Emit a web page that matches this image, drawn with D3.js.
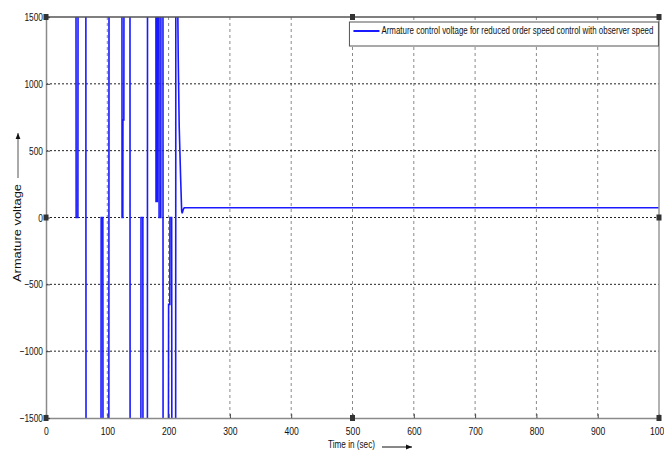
<!DOCTYPE html>
<html>
<head>
<meta charset="utf-8">
<script src="https://cdn.jsdelivr.net/npm/d3@7"></script>
<style>
body { margin: 0; background: #fff; }
text { font-family: "Liberation Sans Narrow", "Arial Narrow", "Liberation Sans", sans-serif; }
</style>
</head>
<body>
<div id="chart"></div>
<script>
// switching armature voltage, values beyond +-1500 are clipped by the axes
var time = [0, 48.9, 49.2, 52.0, 52.3, 65.0, 65.3, 89.7, 90.0, 92.7, 93.0, 102.5, 102.8,
            123.9, 124.1, 125.3, 125.5, 127.0, 127.2, 137.0, 137.2, 154.8, 155.0, 158.0, 158.2,
            165.4, 165.6, 179.3, 179.5, 181.6, 181.8, 184.3, 184.5, 187.3, 187.5, 190.8, 191.0,
            199.7, 200.0, 202.0, 202.2, 205.0, 205.3, 211.5, 211.8, 214.5,
            215.7, 217.3, 219.6, 221.3, 222.2, 224.0, 225.5, 1000];
var voltage = [1800, 1800, 0, 0, 1800, 1800, -1800, -1800, 0, 0, -1800, -1800, 1800,
               1800, 0, 0, 730, 730, 1800, 1800, -1800, -1800, 0, 0, -1800,
               -1800, 1800, 1800, 120, 120, 1800, 1800, 0, 0, 1800, 1800, -1800,
               -1800, -650, -650, 0, 0, -1800, -1800, 1800, 1800,
               1200, 680, 300, 50, 32, 62, 73, 73];
var xTicks = [0, 100, 200, 300, 400, 500, 600, 700, 800, 900, 1000];
var yTicks = [-1500, -1000, -500, 0, 500, 1000, 1500];
var legendLabel = "Armature control voltage for reduced order speed control with observer speed";

var margin = {top: 17, right: 5, bottom: 32, left: 46},
    width = 664 - margin.left - margin.right,
    height = 450 - margin.top - margin.bottom;

var svg = d3.select("#chart").append("svg")
    .attr("width", 664).attr("height", 450)
    .style("display", "block");

var g = svg.append("g")
    .attr("transform", "translate(" + margin.left + "," + margin.top + ")");

var xScale = d3.scaleLinear().domain([0, 1000]).range([0, width]);
var yScale = d3.scaleLinear().domain([-1500, 1500]).range([height, 0]);

g.append("defs").append("clipPath").attr("id", "plot-clip")
    .append("rect").attr("width", width).attr("height", height);

// grid
g.append("g").selectAll("line").data(xTicks.slice(1, -1)).enter().append("line")
    .attr("x1", d => xScale(d)).attr("x2", d => xScale(d))
    .attr("y1", 0).attr("y2", height)
    .attr("stroke", "#8a8a8a").attr("stroke-dasharray", "3,3");
g.append("g").selectAll("line").data(yTicks.slice(1, -1)).enter().append("line")
    .attr("x1", 0).attr("x2", width)
    .attr("y1", d => yScale(d)).attr("y2", d => yScale(d))
    .attr("stroke", "#222").attr("stroke-dasharray", "2,2");

// signal
var pts = time.map((t, i) => [t, voltage[i]]);
g.append("path")
    .datum(pts)
    .attr("clip-path", "url(#plot-clip)")
    .attr("d", d3.line().x(d => xScale(d[0])).y(d => yScale(d[1])))
    .attr("fill", "none")
    .attr("stroke", "#1a1aff")
    .attr("stroke-width", 1.6);

// axes
var xAxis = g.append("g").attr("transform", "translate(0," + height + ")")
    .call(d3.axisBottom(xScale).tickValues(xTicks).tickSize(-4).tickPadding(9).tickFormat(d3.format("d")));
var yAxis = g.append("g")
    .call(d3.axisLeft(yScale).tickValues(yTicks).tickSize(-4).tickPadding(5).tickFormat(d3.format("d")));
[xAxis, yAxis].forEach(a => {
    a.select(".domain").attr("stroke", "#8a8a8a").attr("stroke-width", 1.5);
    a.selectAll(".tick line").attr("stroke", "#444");
    a.selectAll(".tick text").attr("fill", "#111").style("font-size", "11px");
});
// narrow tick labels, like the condensed font of the original
xAxis.selectAll(".tick text").attr("transform", "scale(0.78,1)");
yAxis.selectAll(".tick text").attr("x", -3 / 0.76).attr("transform", "scale(0.76,1)");

// top and right box edges
g.append("line").attr("x1", 0).attr("x2", width).attr("y1", 0).attr("y2", 0)
    .attr("stroke", "#555").attr("stroke-width", 1.5);
g.append("line").attr("x1", width).attr("x2", width).attr("y1", 0).attr("y2", height)
    .attr("stroke", "#999").attr("stroke-width", 1.5);

// legend
var lg = g.append("g").attr("transform", "translate(" + (xScale(495)) + ",5)");
lg.append("rect").attr("width", 309).attr("height", 24)
    .attr("fill", "#fff").attr("stroke", "#555");
lg.append("line").attr("x1", 4).attr("x2", 30).attr("y1", 9).attr("y2", 9)
    .attr("stroke", "#1a1aff").attr("stroke-width", 2);
lg.append("text").attr("x", 32).attr("y", 12)
    .attr("textLength", 272).attr("lengthAdjust", "spacingAndGlyphs")
    .style("font-size", "10.5px").attr("fill", "#111").text(legendLabel);

// selection handles
var hx = [0, width / 2, width], hy = [0, height / 2, height];
var handles = [];
hx.forEach(x => hy.forEach(y => { if (!(x === width / 2 && y === height / 2)) handles.push([x, y]); }));
g.append("g").selectAll("rect").data(handles).enter().append("rect")
    .attr("x", d => d[0] - 2.5).attr("y", d => d[1] - 3)
    .attr("width", 5).attr("height", 6)
    .attr("fill", "#333");

// axis titles with arrows
svg.append("defs").append("marker")
    .attr("id", "arrowhead").attr("viewBox", "0 -5 10 10")
    .attr("refX", 10).attr("refY", 0)
    .attr("markerWidth", 6).attr("markerHeight", 6)
    .attr("orient", "auto")
    .append("path").attr("d", "M0,-4L10,0L0,4Z").attr("fill", "#111");

svg.append("text").attr("x", 328).attr("y", 448)
    .attr("textLength", 47).attr("lengthAdjust", "spacingAndGlyphs")
    .style("font-size", "10.5px").attr("fill", "#111")
    .text("Time in (sec)");
svg.append("line").attr("x1", 382).attr("x2", 412).attr("y1", 447).attr("y2", 447)
    .attr("stroke", "#111").attr("stroke-width", 1).attr("marker-end", "url(#arrowhead)");

svg.append("text")
    .attr("transform", "translate(21,233) rotate(-90)")
    .attr("text-anchor", "middle")
    .attr("textLength", 98).attr("lengthAdjust", "spacingAndGlyphs")
    .style("font-family", "'Liberation Sans', Arial, sans-serif")
    .style("font-size", "10.5px").attr("fill", "#111")
    .text("Armature voltage");
svg.append("line").attr("x1", 18).attr("x2", 18).attr("y1", 178).attr("y2", 133)
    .attr("stroke", "#555").attr("stroke-width", 1).attr("marker-end", "url(#arrowhead)");
</script>
</body>
</html>
